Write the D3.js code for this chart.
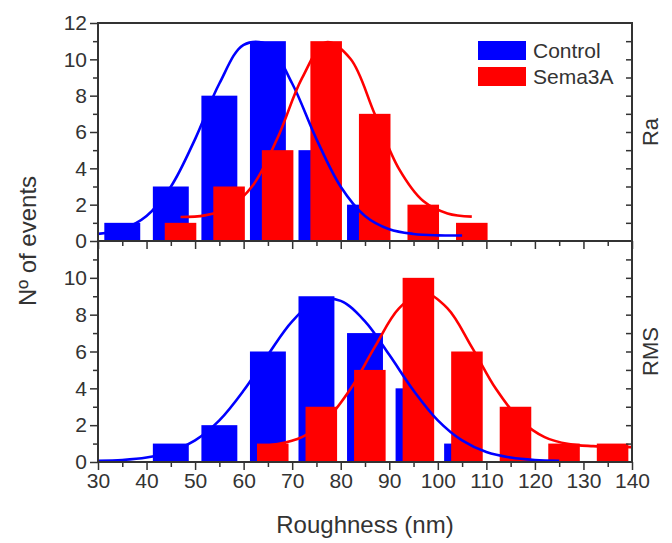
<!DOCTYPE html>
<html>
<head>
<meta charset="utf-8">
<script src="https://cdn.jsdelivr.net/npm/d3@7"></script>
<style>
    body { margin: 0; background: #fff; }
    svg text { font-family: "Liberation Sans", Arial, sans-serif; fill: #333; }
</style>
</head>
<body>
<div id="chart"></div>
<script>
// histogram bins (centre of each bar) and counts
let blueBinsRa = [35, 45, 55, 65, 75, 85];
let blueCountsRa = [1, 3, 8, 11, 5, 2];
let redBinsRa = [47, 57, 67, 77, 87, 97, 107];
let redCountsRa = [1, 3, 5, 11, 7, 2, 1];

let blueBinsRms = [45, 55, 65, 75, 85, 95, 105];
let blueCountsRms = [1, 2, 6, 9, 7, 4, 1];
let redBinsRms = [66, 76, 86, 96, 106, 116, 126, 136];
let redCountsRms = [1, 3, 5, 10, 6, 3, 1, 1];

// fitted curves
let blueFitRaX = [30, 35, 40, 45, 50, 55, 60, 65, 70, 75, 80, 85, 90, 95, 100, 105];
let blueFitRaY = [0.39, 0.65, 1.38, 2.99, 5.61, 8.67, 10.8, 10.8, 8.67, 5.61, 2.99, 1.38, 0.65, 0.39, 0.31, 0.3];
let redFitRaX = [47, 52, 57, 62, 67, 72, 77, 82, 87, 92, 97, 102, 107];
let redFitRaY = [1.32, 1.41, 1.83, 3.1, 5.68, 8.95, 10.94, 10.03, 6.99, 3.97, 2.2, 1.52, 1.34];

let blueFitRmsX = [30, 35, 40, 45, 50, 55, 60, 65, 70, 75, 80, 85, 90, 95, 100, 105, 110, 115, 120, 125];
let blueFitRmsY = [0.07, 0.11, 0.24, 0.54, 1.17, 2.26, 3.88, 5.82, 7.64, 8.75, 8.75, 7.64, 5.82, 3.88, 2.26, 1.17, 0.54, 0.24, 0.11, 0.07];
let redFitRmsX = [63, 67, 72, 77, 82, 87, 92, 97, 102, 107, 112, 117, 122, 127, 132, 137, 140];
let redFitRmsY = [0.86, 0.97, 1.35, 2.28, 3.96, 6.24, 8.34, 9.2, 8.34, 6.24, 3.96, 2.28, 1.35, 0.97, 0.86, 0.82, 0.81];

let xTicks = [30, 40, 50, 60, 70, 80, 90, 100, 110, 120, 130, 140];
let xMinorTicks = [35, 45, 55, 65, 75, 85, 95, 105, 115, 125, 135];
let yTicksTop = [0, 2, 4, 6, 8, 10, 12];
let yTicksBottom = [0, 2, 4, 6, 8, 10];
let yMinorTicks = [1, 3, 5, 7, 9, 11];
let yAllTicks = [0, 1, 2, 3, 4, 5, 6, 7, 8, 9, 10, 11, 12];

let legendLabels = ["Control", "Sema3A"];
let panelLabels = ["Ra", "RMS"];

let blue = "#0000ff";
let red = "#ff0000";
let axisColor = "#333";

let margin = {top: 23, left: 98};
let width = 534;
let topHeight = 218;
let bottomHeight = 221;

let svg = d3.select("#chart")
    .append("svg")
    .attr("width", 672)
    .attr("height", 543);

let g = svg.append("g")
    .attr("transform", "translate(" + margin.left + "," + margin.top + ")");

let x = d3.scaleLinear().domain([30, 140]).range([0, width]);
let yTop = d3.scaleLinear().domain([0, 12]).range([topHeight, 0]);
let yBottom = d3.scaleLinear().domain([0, 12]).range([topHeight + bottomHeight, topHeight]);

let blueWidth = 7.4;
let redWidth = 6.5;

function drawBars(bins, counts, y, barWidth, color) {
    let data = bins.map(function(b, i) { return {bin: b, count: counts[i]}; });
    g.append("g")
        .selectAll("rect")
        .data(data)
        .enter().append("rect")
        .attr("x", function(d) { return x(d.bin - barWidth / 2); })
        .attr("width", function(d) { return x(d.bin + barWidth / 2) - x(d.bin - barWidth / 2); })
        .attr("y", function(d) { return y(d.count); })
        .attr("height", function(d) { return y(0) - y(d.count); })
        .attr("fill", color);
}

function drawFit(xs, ys, y, color) {
    let pts = xs.map(function(v, i) { return [v, ys[i]]; });
    let line = d3.line()
        .x(function(d) { return x(d[0]); })
        .y(function(d) { return y(d[1]); })
        .curve(d3.curveCatmullRom);
    g.append("path")
        .datum(pts)
        .attr("d", line)
        .attr("fill", "none")
        .attr("stroke", color)
        .attr("stroke-width", 2.6);
}

drawBars(blueBinsRa, blueCountsRa, yTop, blueWidth, blue);
drawBars(redBinsRa, redCountsRa, yTop, redWidth, red);
drawBars(blueBinsRms, blueCountsRms, yBottom, blueWidth, blue);
drawBars(redBinsRms, redCountsRms, yBottom, redWidth, red);

drawFit(blueFitRaX, blueFitRaY, yTop, blue);
drawFit(redFitRaX, redFitRaY, yTop, red);
drawFit(blueFitRmsX, blueFitRmsY, yBottom, blue);
drawFit(redFitRmsX, redFitRmsY, yBottom, red);

function styleAxis(sel) {
    sel.select(".domain").remove();
    sel.selectAll(".tick line").attr("stroke", axisColor).attr("stroke-width", 1.5);
    sel.selectAll(".tick text")
        .attr("font-size", 21)
        .attr("fill", axisColor)
        .style("font-family", "'Liberation Sans', Arial, sans-serif");
}

// x axes: top panel (no labels) and bottom panel
[topHeight, topHeight + bottomHeight].forEach(function(yPos, i) {
    g.append("g")
        .attr("transform", "translate(0," + yPos + ")")
        .call(d3.axisBottom(x).tickValues(xTicks).tickSize(8).tickPadding(3)
            .tickFormat(i === 1 ? d3.format("d") : ""))
        .call(styleAxis);
    g.append("g")
        .attr("transform", "translate(0," + yPos + ")")
        .call(d3.axisBottom(x).tickValues(xMinorTicks).tickSize(5).tickFormat(""))
        .call(styleAxis);
});

// left y axes
g.append("g")
    .call(d3.axisLeft(yTop).tickValues(yTicksTop).tickSize(8).tickPadding(3))
    .call(styleAxis);
g.append("g")
    .call(d3.axisLeft(yTop).tickValues(yMinorTicks).tickSize(5).tickFormat(""))
    .call(styleAxis);
g.append("g")
    .call(d3.axisLeft(yBottom).tickValues(yTicksBottom).tickSize(8).tickPadding(3))
    .call(styleAxis);
g.append("g")
    .call(d3.axisLeft(yBottom).tickValues(yMinorTicks).tickSize(5).tickFormat(""))
    .call(styleAxis);

// right y axes, ticks pointing inward
[yTop, yBottom].forEach(function(y) {
    g.append("g")
        .attr("transform", "translate(" + width + ",0)")
        .call(d3.axisLeft(y).tickValues(yAllTicks.slice(1, 12)).tickSize(6).tickFormat(""))
        .call(styleAxis);
});

// panel frames
g.append("rect")
    .attr("width", width)
    .attr("height", topHeight)
    .attr("fill", "none")
    .attr("stroke", axisColor)
    .attr("stroke-width", 2);
g.append("rect")
    .attr("y", topHeight)
    .attr("width", width)
    .attr("height", bottomHeight)
    .attr("fill", "none")
    .attr("stroke", axisColor)
    .attr("stroke-width", 2);

// legend
let legend = g.append("g")
    .selectAll("g")
    .data(legendLabels)
    .enter().append("g")
    .attr("transform", function(d, i) { return "translate(380," + (18 + i * 26) + ")"; });

legend.append("rect")
    .attr("width", 48)
    .attr("height", 19)
    .attr("fill", function(d, i) { return i === 0 ? blue : red; });

legend.append("text")
    .attr("x", 55)
    .attr("y", 9.5)
    .attr("dy", "0.35em")
    .attr("font-size", 21)
    .text(function(d) { return d; });

// panel labels on the right
g.selectAll(".panel-label")
    .data(panelLabels)
    .enter().append("text")
    .attr("class", "panel-label")
    .attr("text-anchor", "middle")
    .attr("font-size", 22)
    .attr("transform", function(d, i) {
        let cy = i === 0 ? topHeight / 2 : topHeight + bottomHeight / 2;
        return "translate(" + (width + 26) + "," + cy + ") rotate(-90)";
    })
    .text(function(d) { return d; });

// axis titles
g.append("text")
    .attr("x", width / 2)
    .attr("y", topHeight + bottomHeight + 71)
    .attr("text-anchor", "middle")
    .attr("font-size", 24)
    .text("Roughness (nm)");

g.append("text")
    .attr("text-anchor", "middle")
    .attr("font-size", 24)
    .attr("transform", "translate(-62," + topHeight + ") rotate(-90)")
    .text("Nº of events");
</script>
</body>
</html>
